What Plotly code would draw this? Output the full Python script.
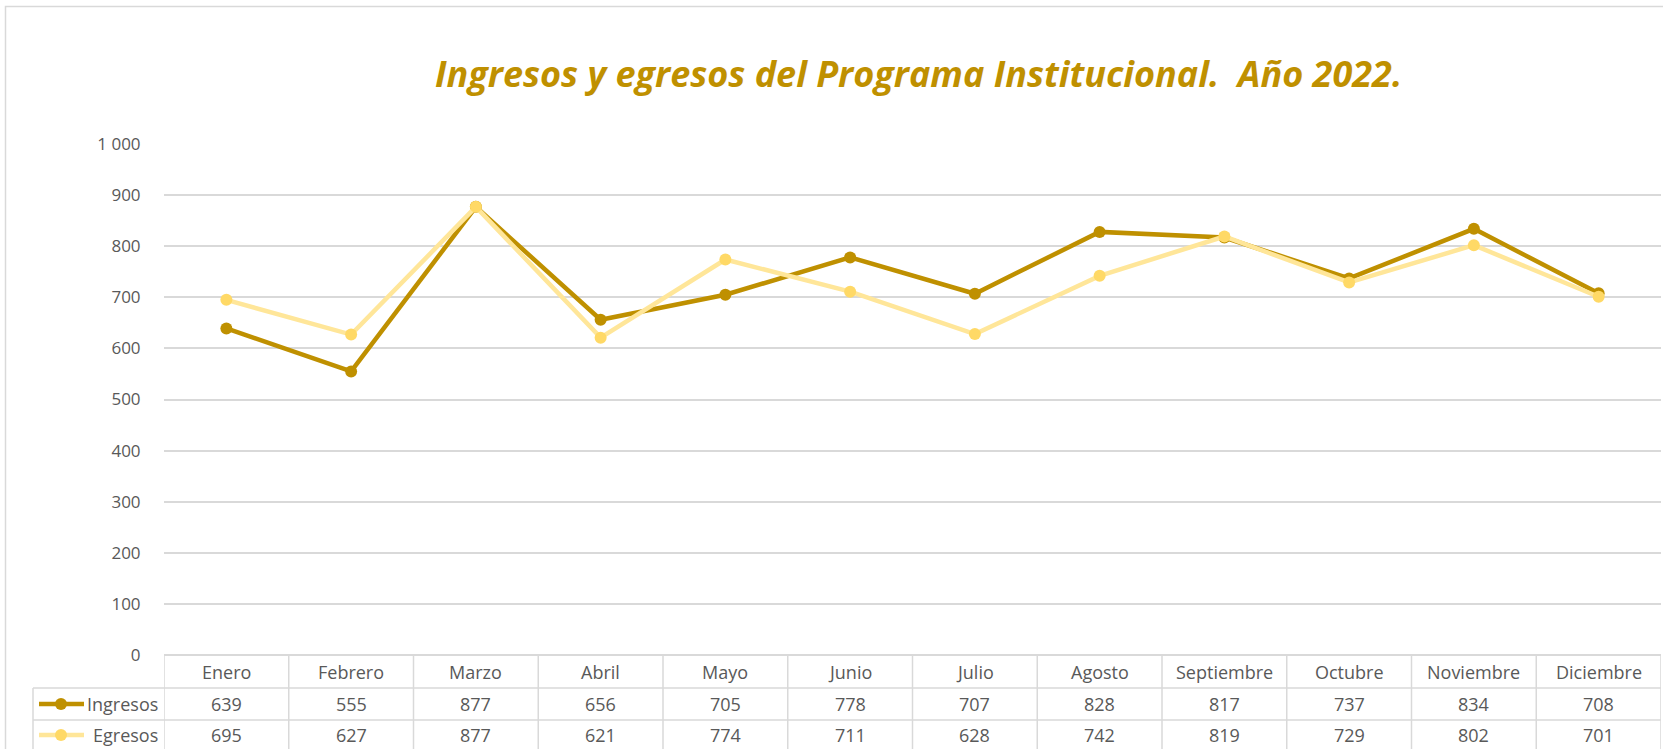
import plotly.graph_objects as go

months = ["Enero", "Febrero", "Marzo", "Abril", "Mayo", "Junio", "Julio",
          "Agosto", "Septiembre", "Octubre", "Noviembre", "Diciembre"]
ingresos = [639, 555, 877, 656, 705, 778, 707, 828, 817, 737, 834, 708]
egresos = [695, 627, 877, 621, 774, 711, 628, 742, 819, 729, 802, 701]
series_names = ["Ingresos", "Egresos"]
title_text = "Ingresos y egresos del Programa Institucional.\u00a0 Año 2022."

W, H = 1663, 749
L, R, T, B = 164, 2, 144, 94
PW = W - L - R
PH = H - T - B

C_ING = "#BF9000"
C_EGR_LINE = "#FFE699"
C_EGR_MARK = "#FFD966"
GRID = "#D9D9D9"
TXT = "#595959"
FONT = "Open Sans"
FS = 18


def py(Y):
    return (H - B - Y) / PH


def px(X):
    return (X - L) / PW


fig = go.Figure()
fig.add_trace(go.Scatter(x=months, y=ingresos, name=series_names[0], mode="lines+markers",
                         line=dict(color=C_ING, width=4.5),
                         marker=dict(color=C_ING, size=12), showlegend=False))
fig.add_trace(go.Scatter(x=months, y=egresos, name=series_names[1], mode="lines+markers",
                         line=dict(color=C_EGR_LINE, width=4.5),
                         marker=dict(color=C_EGR_MARK, size=12), showlegend=False))

shapes = []
annotations = []

# outer chart border
shapes.append(dict(type="rect", xref="paper", yref="paper",
                   x0=px(5.5), x1=px(1680), y0=py(770), y1=py(6.5),
                   line=dict(color=GRID, width=1.5), layer="below"))

# vertical column boundaries of the data table
for i in range(len(months) + 1):
    shapes.append(dict(type="line", xref="x", yref="paper",
                       x0=i - 0.5, x1=i - 0.5, y0=py(655), y1=py(760),
                       line=dict(color=GRID, width=1.5)))
# legend column left border
shapes.append(dict(type="line", xref="paper", yref="paper",
                   x0=px(33), x1=px(33), y0=py(688), y1=py(760),
                   line=dict(color=GRID, width=1.5)))
# horizontal row lines
for Y in [688, 720]:
    shapes.append(dict(type="line", xref="paper", yref="paper",
                       x0=px(33), x1=1, y0=py(Y), y1=py(Y),
                       line=dict(color=GRID, width=1.5)))

# header row
for m in months:
    annotations.append(dict(x=m, y=py(672), xref="x", yref="paper", text=m,
                            showarrow=False, font=dict(family=FONT, size=FS, color=TXT),
                            xanchor="center", yanchor="middle"))

rows = [(series_names[0], ingresos, 704, C_ING, C_ING),
        (series_names[1], egresos, 735, C_EGR_LINE, C_EGR_MARK)]
for name, vals, Yc, lc, mc in rows:
    for m, v in zip(months, vals):
        annotations.append(dict(x=m, y=py(Yc), xref="x", yref="paper", text=str(v),
                                showarrow=False, font=dict(family=FONT, size=FS, color=TXT),
                                xanchor="center", yanchor="middle"))
    annotations.append(dict(x=px(160), y=py(Yc), xref="paper", yref="paper", text=name,
                            showarrow=False, font=dict(family=FONT, size=FS, color=TXT),
                            xanchor="right", yanchor="middle"))
    shapes.append(dict(type="line", xref="paper", yref="paper",
                       x0=px(39), x1=px(84), y0=py(Yc), y1=py(Yc),
                       line=dict(color=lc, width=4.5)))
    shapes.append(dict(type="circle", xref="paper", yref="paper",
                       xsizemode="pixel", ysizemode="pixel",
                       xanchor=px(61), yanchor=py(Yc),
                       x0=-6, x1=6, y0=-6, y1=6,
                       fillcolor=mc, line=dict(color=mc, width=0)))

# title
annotations.append(dict(x=px(918), y=py(74), xref="paper", yref="paper", text="<b><i>" + title_text + "</i></b>",
                        showarrow=False, font=dict(family=FONT, size=36, color=C_ING),
                        xanchor="center", yanchor="middle"))

fig.update_layout(
    width=W, height=H,
    margin=dict(l=L, r=R, t=T, b=B, pad=0),
    paper_bgcolor="white", plot_bgcolor="white",
    separators=". ",
    shapes=shapes, annotations=annotations,
    showlegend=False,
    xaxis=dict(range=[-0.5, len(months) - 0.5], showticklabels=False, showgrid=False,
               zeroline=False, showline=False, fixedrange=True),
    yaxis=dict(range=[0, 1000], dtick=100, tick0=0, showgrid=True, gridcolor=GRID, gridwidth=1.5,
               zeroline=True, zerolinecolor=GRID, zerolinewidth=1.5, showline=False,
               separatethousands=True, tickformat=",d",
               ticks="outside", ticklen=19, tickcolor="rgba(0,0,0,0)",
               tickfont=dict(family=FONT, size=17, color=TXT), fixedrange=True),
)

fig.write_html("out.html", config={"displayModeBar": False},
               post_script="document.body.style.margin='0';document.body.style.overflow='hidden';")
